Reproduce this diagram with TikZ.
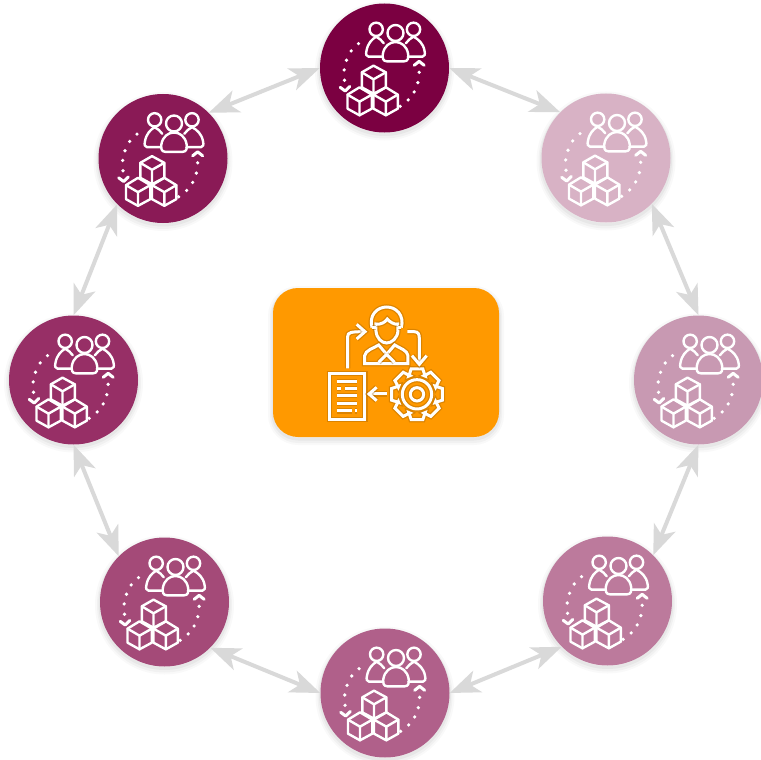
\documentclass[tikz,border=0pt]{standalone}
\usetikzlibrary{arrows.meta}
\definecolor{c1}{HTML}{7B0041}
\definecolor{c2}{HTML}{8A1A56}
\definecolor{c3}{HTML}{972F66}
\definecolor{c4}{HTML}{A44A78}
\definecolor{c5}{HTML}{B0608A}
\definecolor{c6}{HTML}{BC7A9C}
\definecolor{c7}{HTML}{C899B2}
\definecolor{c8}{HTML}{D8B2C5}
\definecolor{amber}{HTML}{FF9900}
\definecolor{linkgrey}{HTML}{D9D9D9}
\tikzset{
  softshadow/.style={
    preaction={draw=black,draw opacity=.025,line width=10pt,transform canvas={yshift=-3pt}},
    preaction={draw=black,draw opacity=.03,line width=6pt,transform canvas={yshift=-3pt}},
    preaction={draw=black,draw opacity=.04,line width=3pt,transform canvas={yshift=-2pt}}},
  disc/.style={circle,inner sep=0pt,minimum size=129pt,softshadow},
  link/.style={draw=linkgrey,line width=4pt,{Stealth[inset=8pt,length=30pt,width=23pt]}-{Stealth[inset=8pt,length=30pt,width=23pt]}},
  iconline/.style={draw=white,line width=2.4pt,line join=round,line cap=round},
  iconthick/.style={draw=white,line width=3pt,line join=miter,
    preaction={draw=black!40!amber,draw opacity=.35,line width=5.5pt}}
}
% Recurring icon of a disc: people, cubes and a dotted cycle
\newcommand{\cycleicon}[1]{%
\begin{scope}[shift={(#1.center)},x=.3333pt,y=-.3333pt,xshift=-69.33pt,yshift=68pt]
  % people
  \draw[iconline] (183,88) circle[radius=20];
  \draw[iconline] (295,88) circle[radius=20];
  \draw[iconline] (241,99) circle[radius=24];
  \draw[iconline] (215,184) -- (267,184) .. controls (280,184) and (280,172) .. (279,162)
      .. controls (275,138) and (258,126) .. (241,126)
      .. controls (224,126) and (207,138) .. (203,162)
      .. controls (202,172) and (202,184) .. (215,184) -- cycle;
  \draw[iconline] (203,170) -- (160,170) .. controls (152,170) and (152,162) .. (154,152)
      .. controls (158,130) and (170,118) .. (183,110) .. controls (192,114) and (200,122) .. (206,130);
  \draw[iconline] (278,170) -- (322,170) .. controls (330,170) and (330,162) .. (328,152)
      .. controls (324,130) and (310,118) .. (295,110) .. controls (286,114) and (278,122) .. (272,130);
  % cubes
  \draw[iconline] (175,197) -- (212,217) -- (212,262) -- (175,281) -- (140,262) -- (140,217) -- cycle;
  \draw[iconline] (140,217) -- (175,238) -- (212,217) (175,238) -- (175,281);
  \draw[iconline] (133,262) -- (170,284) -- (170,326) -- (133,346) -- (97,326) -- (97,284) -- cycle;
  \draw[iconline] (97,284) -- (133,305) -- (170,284) (133,305) -- (133,346);
  \draw[iconline] (212,262) -- (248,284) -- (248,326) -- (212,346) -- (175,326) -- (175,284) -- cycle;
  \draw[iconline] (175,284) -- (212,305) -- (248,284) (212,305) -- (212,346);
  % dotted cycle
  \foreach \px/\py in {130/131,108/153,94/181,87/210,88/241,312/217,308/248,297/276,279/300,255/319}
    \fill[white] (\px,\py) circle[radius=5.5];
  \draw[iconline,line width=3pt] (75,262) -- (90,273) -- (104,259);
  \draw[iconline,line width=3pt] (297,196) -- (312,184) -- (327,196);
\end{scope}}
\begin{document}
\begin{tikzpicture}[x=1pt,y=-1pt]
\useasboundingbox (0,0) rectangle (761,760);
\fill[white] (0,0) rectangle (761,760);
\node[disc,fill=c1] (ntop) at (384.5,68) {};
\node[disc,fill=c8] (nur) at (606,158) {};
\node[disc,fill=c7] (nr) at (698.5,380) {};
\node[disc,fill=c6] (nlr) at (607.5,601) {};
\node[disc,fill=c5] (nb) at (385,693) {};
\node[disc,fill=c4] (nll) at (164.5,602) {};
\node[disc,fill=c3] (nl) at (73.5,380) {};
\node[disc,fill=c2] (nul) at (163,158.5) {};
\node[rectangle,rounded corners=25pt,minimum width=226pt,minimum height=149pt,inner sep=0pt,fill=amber,softshadow] (hub) at (386,362.5) {};
\draw[link] (ntop.0) -- (nur.135);
\draw[link] (nur.-45) -- (nr.90);
\draw[link] (nr.-90) -- (nlr.45);
\draw[link] (nlr.225) -- (nb.0);
\draw[link] (nb.180) -- (nll.-45);
\draw[link] (nll.135) -- (nl.-90);
\draw[link] (nl.90) -- (nul.225);
\draw[link] (nul.45) -- (ntop.180);
\cycleicon{ntop}\cycleicon{nur}\cycleicon{nr}\cycleicon{nlr}
\cycleicon{nb}\cycleicon{nll}\cycleicon{nl}\cycleicon{nul}
% centre icon
\begin{scope}[shift={(hub.center)},x=.3333pt,y=-.3333pt,xshift=-116pt,yshift=77.5pt]
  % person
  \draw[iconthick] (318,112) -- (318,138) .. controls (320,160) and (335,174) .. (350,174)
     .. controls (365,174) and (382,160) .. (384,138) -- (384,112);
  \draw[iconthick] (306,128) .. controls (296,90) and (322,66) .. (350,66)
     .. controls (378,66) and (404,90) .. (394,128);
  \draw[iconthick] (306,128) -- (318,128) (394,128) -- (384,128);
  \draw[iconthick] (318,118) .. controls (335,118) and (345,112) .. (352,102) .. controls (360,112) and (372,118) .. (384,118);
  \draw[iconthick] (284,236) -- (284,212) .. controls (286,196) and (310,190) .. (326,180)
     -- (350,208) -- (374,180) .. controls (390,190) and (412,196) .. (414,212) -- (414,236) -- cycle;
  \draw[iconthick] (350,208) -- (326,232) (350,208) -- (374,232);
  % document
  \draw[iconthick] (178,265) rectangle (285,403);
  \draw[iconthick] (200,290) -- (262,290) (200,310) -- (212,310) (225,310) -- (262,310)
     (200,332) -- (262,332) (200,355) -- (262,355) (200,378) -- (245,378) (256,378) -- (262,378);
  % gear
  \begin{scope}[shift={(441,328)}]
    \draw[iconthick] (-13:78) \foreach \a in {0,45,...,315} { -- (\a-13:78) -- (\a+13:78) -- (\a+24:60) -- (\a+21:60) } -- cycle;
    \draw[iconthick] (0,0) circle[radius=44];
    \draw[iconthick] (0,0) circle[radius=20];
  \end{scope}
  % arrows
  \draw[iconthick] (350,327) -- (298,327);
  \draw[iconthick] (320,307) -- (297,327) -- (320,347);
  \draw[iconthick] (233,250) -- (233,155) .. controls (233,142) and (242,140) .. (285,140);
  \draw[iconthick] (260,118) -- (285,140) -- (260,162);
  \draw[iconthick] (412,140) -- (432,140) .. controls (445,140) and (448,148) .. (448,160) -- (448,236);
  \draw[iconthick] (426,212) -- (448,238) -- (470,212);
\end{scope}
\end{tikzpicture}
\end{document}
